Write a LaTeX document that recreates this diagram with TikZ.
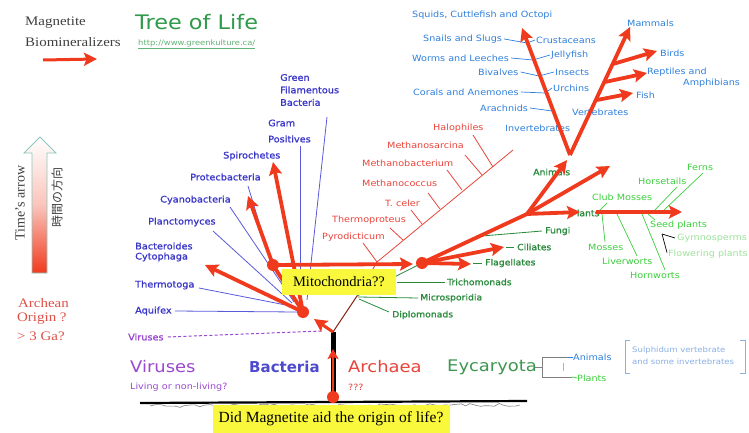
\documentclass[tikz,border=0pt]{standalone}
\usepackage{fontspec}
\setmainfont{Liberation Serif}
\newfontfamily\labfont[FakeStretch=1.12]{DejaVu Sans}
\newfontfamily\labheavy[FakeStretch=1.08,FakeBold=1.2]{DejaVu Sans}
\newfontfamily\labplain{DejaVu Sans}
\newfontfamily\serifwide[FakeStretch=1.15]{Liberation Serif}
\newfontfamily\jpfont{Noto Sans CJK JP}
\usetikzlibrary{arrows.meta,decorations.pathmorphing}

\definecolor{arrowred}{HTML}{F03A1E}
\definecolor{bacblue}{HTML}{3A36C8}
\definecolor{baclineblue}{HTML}{5A5ADC}
\definecolor{aniblue}{HTML}{2F80DC}
\definecolor{arcred}{HTML}{E8443A}
\definecolor{eukgreen}{HTML}{2A8A3C}
\definecolor{plagreen}{HTML}{3CCF3C}
\definecolor{plalight}{HTML}{9CE49C}
\definecolor{virpurple}{HTML}{9A48D0}
\definecolor{treegreen}{HTML}{2E9A4A}
\definecolor{boxyellow}{HTML}{FAF83C}
\definecolor{textgray}{HTML}{404040}
\definecolor{trunkred}{HTML}{8A2A1E}
\definecolor{boxblue}{HTML}{8AB0E6}
\definecolor{arrowteal}{HTML}{8CC8C0}
\definecolor{oldred}{HTML}{E05048}

\tikzset{
  lab/.style={font=\labfont\fontsize{8.6}{10}\selectfont, inner sep=0pt, anchor=west},
  baclab/.style={lab, font=\labheavy\fontsize{9}{11}\selectfont, text=bacblue},
  anilab/.style={lab, text=aniblue},
  arclab/.style={lab, text=arcred},
  euklab/.style={lab, font=\labheavy\fontsize{8.6}{10}\selectfont, text=eukgreen},
  plalab/.style={lab, text=plagreen},
  plalight/.style={lab, text=plalight},
  bigname/.style={font=\labfont\fontsize{16}{18}\selectfont, inner sep=0pt, anchor=west},
  serifnote/.style={font=\serifwide\fontsize{13}{15}\selectfont, inner sep=0pt, anchor=west},
  redarrow/.style={draw=arrowred, line width=3.8pt, -{Stealth[length=13pt,width=13pt,inset=2.5pt]}},
  redstem/.style={draw=arrowred, line width=3.8pt, line cap=round},
  junction/.style={circle, fill=arrowred, minimum size=12pt, inner sep=0pt},
  bacline/.style={draw=baclineblue, line width=0.8pt},
  aniline/.style={draw=aniblue, line width=0.7pt},
  arcline/.style={draw=arcred, line width=0.8pt},
  eukline/.style={draw=eukgreen, line width=0.8pt},
  plaline/.style={draw=plagreen, line width=0.7pt},
  yellowbox/.style={fill=boxyellow, inner sep=0pt},
}

\begin{document}
\begin{tikzpicture}[x=1pt,y=-1pt]
\useasboundingbox (0,0) rectangle (749,433);
\fill[white] (0,0) rectangle (749,433);

% ---------- header ----------
\node[serifnote, text=textgray] (magn) at (25,23) {Magnetite};
\node[serifnote, text=textgray] (biom) at (25,42) {Biomineralizers};
\coordinate (mtail) at (43,60);
\coordinate (mhead) at (97,59);
\draw[redarrow, line width=3pt] (mtail) -- (mhead);

\node[font=\labfont\fontsize{20}{22}\selectfont, text=treegreen, anchor=west, inner sep=0pt] (title) at (135,22) {Tree of Life};
\node[font=\labfont\fontsize{7.5}{9}\selectfont, text=treegreen!75, anchor=west, inner sep=0pt] (url) at (138,44) {\underline{http://www.greenkulture.ca/}};

% ---------- time arrow ----------
\shadedraw[draw=arrowteal, line width=0.8pt, top color=white, bottom color=arrowred, middle color=arrowred!30]
  (32,273) -- (32,153) -- (24,153) -- (40,137) -- (56,153) -- (47,153) -- (47,273) -- cycle;
\node[rotate=90, font=\fontsize{14}{16}\selectfont, text=textgray, inner sep=0pt] (tname) at (20,203) {Time's arrow};
\node[rotate=90, font=\jpfont\fontsize{12}{14}\selectfont, text=textgray, inner sep=0pt] (tjp) at (57,197) {時間の方向};

\node[serifnote, text=oldred] (arch1) at (18,303) {Archean};
\node[serifnote, text=oldred] (arch2) at (17,319) {Origin ?};
\node[serifnote, text=oldred] (arch3) at (17,336) {\textgreater{} 3 Ga?};

% ---------- bacteria labels ----------
\node[baclab, align=left, font=\labheavy\fontsize{9}{12.5}\selectfont] (gfb) at (280,90) {Green\\Filamentous\\Bacteria};
\node[baclab] (gram) at (268,123) {Gram};
\node[baclab] (gpos) at (268,139) {Positives};
\node[baclab] (spiro) at (223,156) {Spirochetes};
\node[baclab] (prot) at (190,177) {Protecbacteria};
\node[baclab] (cyan) at (160,200) {Cyanobacteria};
\node[baclab] (planc) at (148,222) {Planctomyces};
\node[baclab] (bacter) at (135,246) {Bacteroides};
\node[baclab] (cyto) at (135,257) {Cytophaga};
\node[baclab] (therm) at (135,285) {Thermotoga};
\node[baclab] (aquif) at (135,311) {Aquifex};
\node[baclab, text=virpurple] (virsm) at (128,337) {Viruses};

% ---------- archaea labels ----------
\node[arclab] (halo) at (433,128) {Halophiles};
\node[arclab] (msarc) at (387,145) {Methanosarcina};
\node[arclab] (mbact) at (362,163) {Methanobacterium};
\node[arclab] (mcocc) at (362,183) {Methanococcus};
\node[arclab] (tceler) at (385,203) {T. celer};
\node[arclab] (tprot) at (332,220) {Thermoproteus};
\node[arclab] (pyro) at (322,237) {Pyrodicticum};

% ---------- eukaryote labels ----------
\node[euklab] (anim) at (533,172) {Animals};
\node[euklab] (fungi) at (545,231) {Fungi};
\node[euklab] (cilia) at (517,247) {Ciliates};
\node[euklab] (flag) at (485,263) {Flagellates};
\node[euklab] (trich) at (447,282) {Trichomonads};
\node[euklab] (micro) at (420,298) {Microsporidia};
\node[euklab] (diplo) at (392,315) {Diplomonads};
\node[euklab] (plantlab) at (571,213) {Plants};

% ---------- animal labels ----------
\node[anilab] (squid) at (412,15) {Squids, Cuttlefish and Octopi};
\node[anilab] (snail) at (423,39) {Snails and Slugs};
\node[anilab] (crust) at (536,40) {Crustaceans};
\node[anilab] (worms) at (412,58) {Worms and Leeches};
\node[anilab] (jelly) at (551,55) {Jellyfish};
\node[anilab] (bival) at (478,72) {Bivalves};
\node[anilab] (insect) at (555,72) {Insects};
\node[anilab] (coral) at (413,92) {Corals and Anemones};
\node[anilab] (urchin) at (553,88) {Urchins};
\node[anilab] (arach) at (480,108) {Arachnids};
\node[anilab] (vert) at (572,112) {Vertebrates};
\node[anilab] (invert) at (505,128) {Invertebrates};
\node[anilab] (mammal) at (627,23) {Mammals};
\node[anilab] (bird) at (660,53) {Birds};
\node[anilab] (rept) at (647,72) {Reptiles and};
\node[anilab] (amphi) at (683,83) {Amphibians};
\node[anilab] (fish) at (636,95) {Fish};

% ---------- plant labels ----------
\node[plalab] (ferns) at (687,167) {Ferns};
\node[plalab] (horse) at (638,181) {Horsetails};
\node[plalab] (club) at (592,197) {Club Mosses};
\node[plalab] (seed) at (650,225) {Seed plants};
\node[plalight] (gymno) at (677,238) {Gymnosperms};
\node[plalight] (flower) at (668,254) {Flowering plants};
\node[plalab] (moss) at (588,247) {Mosses};
\node[plalab] (liver) at (602,261) {Liverworts};
\node[plalab] (horn) at (630,275) {Hornworts};

% ---------- bottom names ----------
\node[bigname, text=virpurple] (viruses) at (130,367) {Viruses};
\node[lab, font=\labfont\fontsize{8.6}{10}\selectfont, text=virpurple] (living) at (130,387) {Living or non-living?};
\node[bigname, font=\labplain\bfseries\fontsize{15}{17}\selectfont, text=bacblue!90] (bacteria) at (249,367) {Bacteria};
\node[bigname, text=arcred] (archaea) at (348,367) {Archaea};
\node[lab, text=arcred] (qqq) at (348,387) {???};
\node[bigname, text=eukgreen!90] (eyca) at (447,367) {Eycaryota};
\node[anilab] (banim) at (573,357) {Animals};
\node[plalab] (bplant) at (577,378) {Plants};
\node[lab, font=\labfont\fontsize{7.6}{9}\selectfont, text=boxblue] (box1) at (632,350) {Sulphidum vertebrate};
\node[lab, font=\labfont\fontsize{7.6}{9}\selectfont, text=boxblue] (box2) at (632,362) {and some invertebrates};

% bracket joining Eycaryota to its two kingdoms
\coordinate (brA) at (535,367);
\coordinate (brB) at (542,367);
\coordinate (brT) at (542,357);
\coordinate (brD) at (542,377);
\coordinate (brTe) at (568,357);
\coordinate (brDe) at (572,377);
\draw[gray, line width=0.7pt] (brA) -- (brB);
\draw[gray, line width=0.7pt] (brTe) -- (brT) -- (brD) -- (brDe);
\draw[aniblue, line width=0.7pt] (brTe) -- (banim.west);
\draw[plagreen, line width=0.7pt] (brDe) -- (bplant.west);
\coordinate (brM1) at (563,363);
\coordinate (brM2) at (563,371);
\draw[gray!60, line width=0.6pt] (brM1) -- (brM2);
% brackets round the side note
\coordinate (bxL1) at (630,340); \coordinate (bxL2) at (625,340);
\coordinate (bxL3) at (625,373); \coordinate (bxL4) at (630,373);
\coordinate (bxR1) at (740,340); \coordinate (bxR2) at (745,340);
\coordinate (bxR3) at (745,373); \coordinate (bxR4) at (740,373);
\draw[boxblue, line width=0.7pt] (bxL1) -- (bxL2) -- (bxL3) -- (bxL4);
\draw[boxblue, line width=0.7pt] (bxR1) -- (bxR2) -- (bxR3) -- (bxR4);

% ---------- key points of the tree ----------
\coordinate (root) at (333,397);
\coordinate (J) at (333,332);
\coordinate (trunktip) at (333,349);
\coordinate (Bn) at (303,312);
\coordinate (Bn2) at (273,265);
\coordinate (Aroot) at (357,296);
\coordinate (Abend) at (377,262);
\coordinate (Atop) at (513,150);
\coordinate (En) at (422,263);
\coordinate (Eb) at (527,214);
\coordinate (Aap) at (570,155);

% ---------- ground ----------
\coordinate (gL) at (140,403);
\coordinate (gR) at (527,401);
\coordinate (gL2) at (150,406);
\coordinate (gR2) at (520,405);
\draw[line width=2.2pt] (gL) -- (gR);
\draw[gray, line width=0.6pt, decorate, decoration={random steps, segment length=5pt, amplitude=1.6pt}] (gL2) -- (gR2);

% ---------- bacteria thin lines ----------
\coordinate (aqE) at (297,312);
\coordinate (thS) at (199,288);
\coordinate (thE) at (296,307);
\coordinate (plS) at (213,231);
\coordinate (plE) at (292,303);
\coordinate (cyS) at (230,207);
\coordinate (cyE) at (294,302);
\coordinate (prS) at (248,186);
\coordinate (prE) at (271,262);
\coordinate (gpT) at (300,146);
\coordinate (gpB) at (300,304);
\coordinate (gfT) at (327,117);
\coordinate (gfB) at (307,300);
\coordinate (virE) at (322,331);
\draw[bacline] ([xshift=3pt]aquif.east) -- (aqE);
\draw[bacline] (thS) -- (thE);
\draw[bacline] (plS) -- (plE);
\draw[bacline] (cyS) -- (cyE);
\draw[bacline] (prS) -- (prE);
\draw[bacline] (gpT) -- (gpB);
\draw[bacline] (gfT) -- (gfB);
\draw[virpurple, line width=1pt, dash pattern=on 3pt off 2.2pt] ([xshift=4pt]virsm.east) -- (virE);

% ---------- archaea backbone and ticks ----------
\draw[trunkred, line width=1pt] (J) -- (Aroot);
\draw[arcline] (Aroot) -- (Abend) -- (Atop);
\coordinate (t1a) at (473,135); \coordinate (t1b) at (493,167);
\coordinate (t2a) at (465,155); \coordinate (t2b) at (482,175);
\coordinate (t3a) at (447,170); \coordinate (t3b) at (462,190);
\coordinate (t4a) at (428,193); \coordinate (t4b) at (440,209);
\coordinate (t5a) at (411,210); \coordinate (t5b) at (422,224);
\coordinate (t6a) at (390,228); \coordinate (t6b) at (403,240);
\coordinate (t7a) at (363,243); \coordinate (t7b) at (377,262);
\foreach \p in {1,...,7} { \draw[arcline] (t\p a) -- (t\p b); }

% ---------- eukaryote thin lines ----------
\coordinate (trS) at (397,282);
\coordinate (miS) at (358,297);
\coordinate (diS) at (359,299);
\coordinate (diE) at (389,312);
\coordinate (fuS) at (482,236);
\coordinate (ciS) at (506,247);
\coordinate (flS) at (473,263);
\draw[eukline] (Aroot) -- (En);
\draw[eukline] (trS) -- ([xshift=-2pt]trich.west);
\draw[eukline] (miS) -- ([xshift=-2pt]micro.west);
\draw[eukline] (diS) -- (diE);
\draw[eukline] (fuS) -- ([xshift=-3pt]fungi.west);
\draw[eukline] (ciS) -- ([xshift=-3pt]cilia.west);
\draw[eukline] (flS) -- ([xshift=-3pt]flag.west);

% ---------- plant thin lines ----------
\coordinate (cbA) at (598,212); \coordinate (cbB) at (607,203);
\coordinate (hsA) at (653,212); \coordinate (hsB) at (677,187);
\coordinate (fnA) at (662,212); \coordinate (fnB) at (703,173);
\coordinate (msA) at (602,214); \coordinate (msB) at (605,242);
\coordinate (lvA) at (617,214); \coordinate (lvB) at (637,256);
\coordinate (hwA) at (642,214); \coordinate (hwB) at (665,270);
\coordinate (sdA) at (648,214); \coordinate (sdB) at (655,220);
\coordinate (gfk) at (662,234);
\draw[plaline] (cbA) -- (cbB);
\draw[plaline] (hsA) -- (hsB);
\draw[plaline] (fnA) -- (fnB);
\draw[plaline] (msA) -- (msB);
\draw[plaline] (lvA) -- (lvB);
\draw[plaline] (hwA) -- (hwB);
\draw[plaline] (sdA) -- (sdB);
\draw[plalight, line width=0.7pt] (gfk) -- ([xshift=-2pt]gymno.west);
\draw[plalight, line width=0.7pt] (gfk) -- ([xshift=-1pt,yshift=-3pt]flower.north west);

% ---------- animal ticks ----------
\coordinate (aL1) at (527,43);
\coordinate (aL2) at (533,60);
\coordinate (aL3) at (539,76);
\coordinate (aL4) at (545,93);
\coordinate (aL5) at (552,111);
\draw[aniline] ([xshift=2pt]snail.east) -- (aL1) -- ([xshift=-1pt]crust.west);
\draw[aniline] ([xshift=2pt]worms.east) -- (aL2) -- ([xshift=-1pt]jelly.west);
\draw[aniline] ([xshift=2pt]bival.east) -- (aL3) -- ([xshift=-1pt]insect.west);
\draw[aniline] ([xshift=2pt]coral.east) -- (aL4) -- ([xshift=-1pt]urchin.west);
\draw[aniline] ([xshift=2pt]arach.east) -- (aL5);

% ---------- red arrows ----------
\draw[black, line width=5pt] (root) -- (J);
\draw[draw=arrowred, line width=2.4pt, -{Stealth[length=10pt,width=11pt,inset=2pt]}] (root) -- (trunktip);

\coordinate (bctip) at (205,265);
\coordinate (prtip) at (248,196);
\coordinate (sptip) at (273,162);
\coordinate (mitotip) at (413,264);
\coordinate (jbtip) at (314,319);
\draw[redarrow] (Bn) -- (bctip);
\draw[redstem] (Bn) -- (Bn2);
\draw[redarrow] (Bn2) -- (prtip);
\draw[redarrow] (Bn) -- (sptip);
\draw[redarrow] (Bn2) -- (mitotip);
\draw[redarrow, line width=3pt] (J) -- (jbtip);

\coordinate (citip) at (504,247);
\coordinate (fltip) at (471,264);
\coordinate (pltip) at (580,212);
\coordinate (uptip) at (610,166);
\coordinate (aptip) at (567,160);
\coordinate (pl2s) at (596,212);
\coordinate (pl2e) at (682,212);
\draw[redstem] (En) -- (Eb);
\draw[redarrow] (En) -- (citip);
\draw[redarrow] (En) -- (fltip);
\draw[redarrow] (Eb) -- (pltip);
\draw[redarrow] (Eb) -- (uptip);
\draw[redarrow] (Eb) -- (aptip);
\draw[redarrow] (pl2s) -- (pl2e);

\coordinate (sqtip) at (522,28);
\coordinate (mamtip) at (630,27);
\coordinate (bdbase) at (613,64);
\coordinate (bdtip) at (657,51);
\coordinate (rpbase) at (605,82);
\coordinate (rptip) at (647,73);
\coordinate (fsbase) at (597,100);
\coordinate (fstip) at (633,93);
\draw[redarrow] (Aap) -- (sqtip);
\draw[redarrow] (Aap) -- (mamtip);
\draw[redarrow] (bdbase) -- (bdtip);
\draw[redarrow] (rpbase) -- (rptip);
\draw[redarrow] (fsbase) -- (fstip);

% ---------- junction dots ----------
\node[junction] (rootdot) at (root) {};
\node[junction] (bdot) at (Bn) {};
\node[junction] (b2dot) at (Bn2) {};
\node[junction] (edot) at (En) {};

% ---------- yellow notes ----------
\node[yellowbox, minimum width=114pt, minimum height=26pt, font=\fontsize{14.5}{16}\selectfont] (mito) at (339,282) {Mitochondria??};
\node[yellowbox, minimum width=237pt, minimum height=28pt, font=\fontsize{15.5}{17}\selectfont] (magq) at (331,419) {Did Magnetite aid the origin of life?};

\end{tikzpicture}
\end{document}
